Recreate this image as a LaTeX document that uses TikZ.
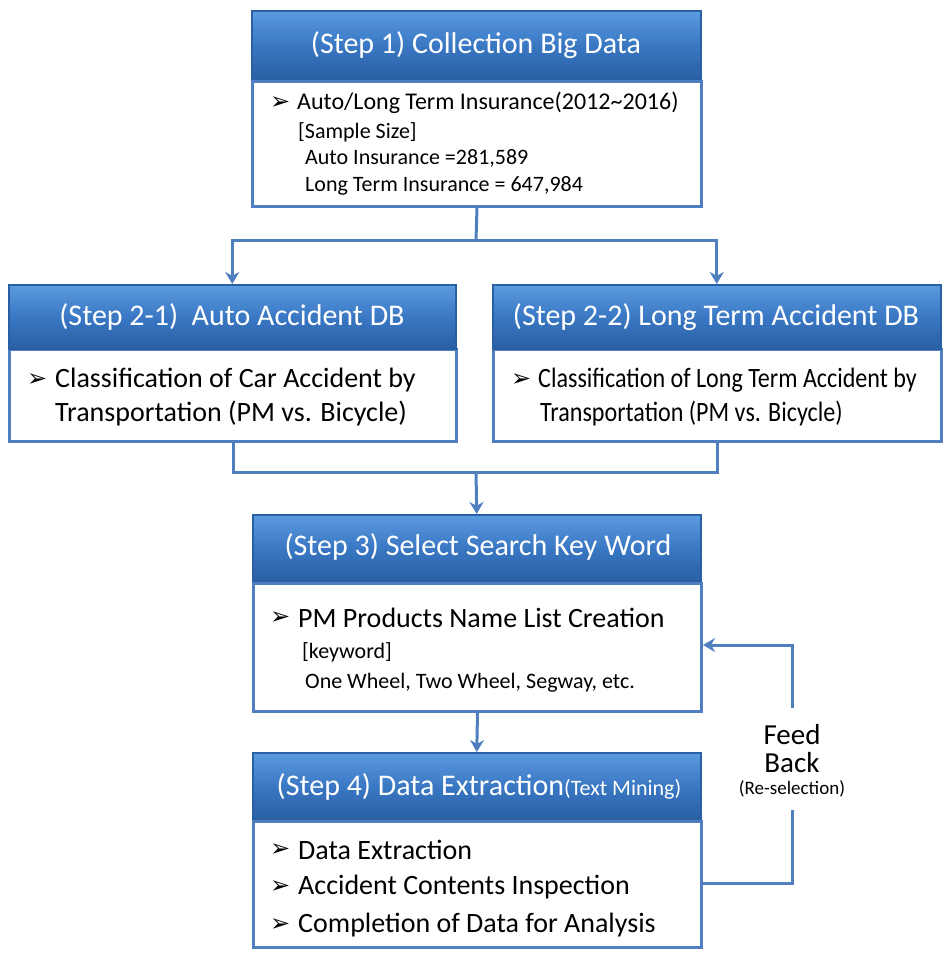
\documentclass[tikz,border=0pt]{standalone}
\usepackage{fontspec}
\setmainfont{Carlito}
\newfontfamily\symf{DejaVu Sans}
\usetikzlibrary{arrows.meta}
\definecolor{hdtop}{HTML}{5B9BE0}
\definecolor{hdmid}{HTML}{3A78C4}
\definecolor{hdbot}{HTML}{2A5FA3}
\definecolor{edge}{HTML}{4F7FC0}
\definecolor{conn}{HTML}{4F7FBF}
\newcommand{\bul}{{\symf\fontsize{24}{24}\selectfont ➢}}
\tikzset{
  hdr/.style={anchor=north west, draw=hdbot, line width=1.5pt, top color=hdtop, bottom color=hdbot, middle color=hdmid, inner sep=0pt},
  bodybox/.style={anchor=north west, draw=edge, line width=3pt, fill=white, inner sep=0pt},
  htext/.style={text=white, font=\fontsize{30}{30}\selectfont, inner sep=0pt},
  btext/.style={anchor=west, text=black, font=\fontsize{28}{28}\selectfont, inner sep=0pt},
  mtext/.style={anchor=west, text=black, font=\fontsize{24}{24}\selectfont, inner sep=0pt},
  stext/.style={anchor=west, text=black, font=\fontsize{22}{22}\selectfont, inner sep=0pt},
  bulnode/.style={anchor=west, inner sep=0pt},
  conline/.style={draw=conn, line width=3pt},
  conarrow/.style={draw=conn, line width=3pt, -{Stealth[length=12pt,width=14pt]}},
}
\begin{document}
\begin{tikzpicture}[x=1pt,y=-1pt]
\useasboundingbox (0,0) rectangle (945,956);
% Step 1
\node[bodybox, minimum width=449pt, minimum height=125pt] (b1) at (251,80) {};
\node[hdr, minimum width=449pt, minimum height=68pt] (h1) at (251,10) {};
\node[htext] (t1) at (476,45) {(Step 1) Collection Big Data};
\node[bulnode] (u1) at (270,103) {\bul};
\node[mtext] (l11) at (297,103) {Auto/Long Term Insurance(2012\textasciitilde2016)};
\node[stext] (l12) at (298,132) {[Sample Size]};
\node[stext] (l13) at (305,158) {Auto Insurance =281,589};
\node[stext] (l14) at (305,186) {Long Term Insurance = 647,984};
% Step 2-1
\node[bodybox, minimum width=447pt, minimum height=92pt] (b21) at (8,348) {};
\node[hdr, minimum width=447pt, minimum height=64pt] (h21) at (8,284) {};
\node[htext] (t21) at (232,317) {(Step 2-1)\ \ Auto Accident DB};
\node[bulnode] (u21) at (27,380) {\bul};
\node[btext] (l211) at (55,380) {Classification of Car Accident by};
\node[btext] (l212) at (55,414) {Transportation (PM vs. Bicycle)};
% Step 2-2
\node[bodybox, minimum width=448pt, minimum height=92pt] (b22) at (492,348) {};
\node[hdr, minimum width=448pt, minimum height=64pt] (h22) at (492,284) {};
\node[htext] (t22) at (716,317) {(Step 2-2) Long Term Accident DB};
\node[bulnode] (u22) at (511,380) {\bul};
\node[btext] (l221) at (538,380) {\scalebox{0.86}[1]{Classification of Long Term Accident by}};
\node[btext] (l222) at (540,414) {\scalebox{0.86}[1]{Transportation (PM vs. Bicycle)}};
% Step 3
\node[bodybox, minimum width=448pt, minimum height=128pt] (b3) at (252,582) {};
\node[hdr, minimum width=448pt, minimum height=66pt] (h3) at (252,514) {};
\node[htext] (t3) at (478,547) {(Step 3) Select Search Key Word};
\node[bulnode] (u3) at (270,618) {\bul};
\node[btext] (l31) at (298,618) {PM Products Name List Creation};
\node[stext] (l32) at (302,652) {[keyword]};
\node[stext] (l33) at (305,683) {One Wheel, Two Wheel, Segway, etc.};
% Step 4
\node[bodybox, minimum width=448pt, minimum height=126pt] (b4) at (252,820) {};
\node[hdr, minimum width=448pt, minimum height=66pt] (h4) at (252,752) {};
\node[htext] (t4) at (479,787) {(Step 4) Data Extraction{\fontsize{22}{22}\selectfont(Text Mining)}};
\node[bulnode] (u41) at (270,850) {\bul};
\node[btext] (l41) at (298,850) {Data Extraction};
\node[bulnode] (u42) at (270,887) {\bul};
\node[btext] (l42) at (298,887) {Accident Contents Inspection};
\node[bulnode] (u43) at (270,925) {\bul};
\node[btext] (l43) at (298,925) {Completion of Data for Analysis};
% feedback label
\node[inner sep=0pt, align=center, font=\fontsize{29}{28}\selectfont] (fb) at (792,761) {Feed\\Back\\[-6pt]{\fontsize{19}{19}\selectfont(Re-selection)}};
% connectors
\coordinate (s1) at (476,240);
\draw[conline] (b1.south) -- (s1);
\draw[conarrow] (s1) -| (h21.north);
\draw[conarrow] (s1) -| (h22.north);
\coordinate (m2) at (476,472);
\draw[conline] (b21.south) |- (m2);
\draw[conline] (b22.south) |- (m2);
\draw[conarrow] (m2) -- (h3.north);
\draw[conarrow] (b3.south) -- (h4.north);
\coordinate (f1) at (792,883);
\coordinate (f2) at (792,810);
\coordinate (f3) at (792,708);
\coordinate (f4) at (792,645);
\draw[conline] (b4.east |- f1) -- (f1) -- (f2);
\draw[conarrow] (f3) -- (f4) -- (b3.east |- f4);
\end{tikzpicture}
\end{document}
